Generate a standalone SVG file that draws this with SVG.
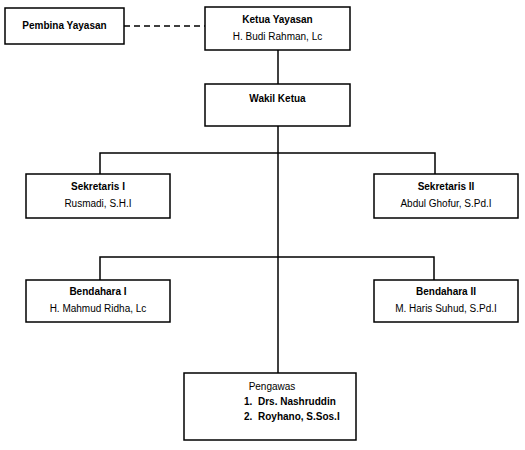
<svg xmlns="http://www.w3.org/2000/svg" width="525" height="450" viewBox="0 0 525 450">
<style>
.box{fill:#fff;stroke:#000;stroke-width:1.5}
.ln{stroke:#000;stroke-width:1.5;fill:none}
text{font-family:"Liberation Sans",Arial,sans-serif;font-size:10px;fill:#000}
.b{font-weight:bold}
.c{text-anchor:middle}
</style>
<rect width="525" height="450" fill="#fff"/>
<g id="connectors">
<line class="ln" x1="124" y1="26" x2="205" y2="26" stroke-dasharray="6,4"/>
<line class="ln" x1="278" y1="50" x2="278" y2="84"/>
<line class="ln" x1="278" y1="126" x2="278" y2="373"/>
<polyline class="ln" points="100,174 100,153 435,153 435,174"/>
<polyline class="ln" points="100,280 100,257 434,257 434,280"/>
</g>
<g id="pembina">
<rect class="box" x="5" y="8" width="119" height="36"/>
<text class="b c" x="64.5" y="29">Pembina Yayasan</text>
</g>
<g id="ketua">
<rect class="box" x="205" y="7" width="145" height="43"/>
<text class="b c" x="277.5" y="23">Ketua Yayasan</text>
<text class="c" x="277.5" y="40">H. Budi Rahman, Lc</text>
</g>
<g id="wakil">
<rect class="box" x="205" y="84" width="145" height="42"/>
<text class="b c" x="277.5" y="102">Wakil Ketua</text>
</g>
<g id="sekretaris1">
<rect class="box" x="26" y="174" width="144" height="44"/>
<text class="b c" x="98" y="190">Sekretaris I</text>
<text class="c" x="98" y="207">Rusmadi, S.H.I</text>
</g>
<g id="sekretaris2">
<rect class="box" x="374" y="174" width="144" height="44"/>
<text class="b c" x="446" y="190">Sekretaris II</text>
<text class="c" x="446" y="207">Abdul Ghofur, S.Pd.I</text>
</g>
<g id="bendahara1">
<rect class="box" x="26" y="280" width="144" height="42"/>
<text class="b c" x="98" y="295">Bendahara I</text>
<text class="c" x="98" y="312">H. Mahmud Ridha, Lc</text>
</g>
<g id="bendahara2">
<rect class="box" x="374" y="280" width="144" height="42"/>
<text class="b c" x="446" y="295">Bendahara II</text>
<text class="c" x="446" y="312">M. Haris Suhud, S.Pd.I</text>
</g>
<g id="pengawas">
<rect class="box" x="184" y="373" width="172" height="67"/>
<text class="c" x="272" y="390">Pengawas</text>
<text class="b" x="244" y="405">1.</text>
<text class="b" x="258" y="405">Drs. Nashruddin</text>
<text class="b" x="244" y="420">2.</text>
<text class="b" x="258" y="420">Royhano, S.Sos.I</text>
</g>
</svg>
